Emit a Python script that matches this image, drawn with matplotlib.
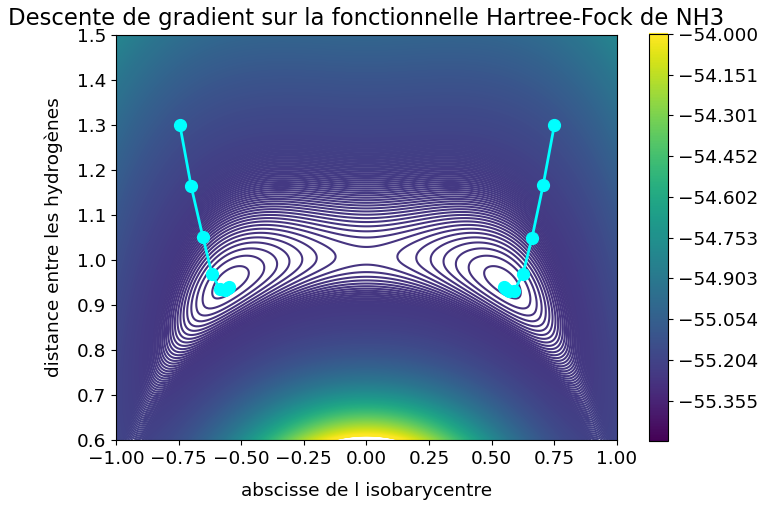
import numpy as np
import matplotlib
matplotlib.use("Agg")
import matplotlib.pyplot as plt

# contour levels (Hartree), as on the colour bar
E_MIN = -55.5036
E_MAX = -54.0
N_LEVELS = 1000

# domain
X_RANGE = [-1.0, 1.0]
Y_RANGE = [0.6, 1.5]

# model of the energy surface
E_WELL = -55.29     # energy at the two minima
X_WELL = 0.555      # abscissa of the two minima
Y_WELL = 0.938      # H-H distance at the minima
Y_SADDLE = 1.0      # H-H distance at the inversion saddle
BARRIER = 0.011     # saddle height above the minima
K_OUT = 0.002       # extra stiffness outside the wells
B_UP = 1.0          # stiffness above the valley
Q_UP = 0.2
B_LOW = 1.5         # stiffness below the valley
SOFTEN = 0.55       # y stiffness drops towards the sides
WALL = 1.15         # repulsive wall at short H-H distance
WALL_L = 0.12
WALL_M = 0.2
WALL_W = 0.45

# gradient descent paths
left_x = [-0.745, -0.700, -0.653, -0.617, -0.585, -0.565, -0.553, -0.548]
left_y = [1.300, 1.164, 1.051, 0.969, 0.935, 0.933, 0.937, 0.939]
right_x = [0.750, 0.705, 0.661, 0.624, 0.590, 0.568, 0.556, 0.550]
right_y = [1.300, 1.166, 1.050, 0.968, 0.932, 0.931, 0.936, 0.939]


def energy(x, y):
    s2 = (x / X_WELL) ** 2
    vx = BARRIER * (s2 - 1) ** 2 + K_OUT * (s2 - 1) ** 2 * s2
    # valley bends down towards the sides -> tilted wells
    y0 = Y_SADDLE - (Y_SADDLE - Y_WELL) * np.abs(x / X_WELL) ** 3
    dy = y - y0
    vy = np.where(dy > 0, B_UP * dy ** 2 + Q_UP * dy ** 4, B_LOW * dy ** 2)
    vy = vy * (1 - SOFTEN * x ** 2)
    t = y - Y_RANGE[0]
    wall = WALL * np.exp(-(x / WALL_W) ** 2) * np.exp(-t / WALL_L - (t / WALL_M) ** 2)
    return E_WELL + vx + vy + wall


x = np.linspace(X_RANGE[0], X_RANGE[1], 400)
y = np.linspace(Y_RANGE[0], Y_RANGE[1], 400)
X, Y = np.meshgrid(x, y)
Z = energy(X, Y)
levels = np.linspace(E_MIN, E_MAX, N_LEVELS)

fig = plt.figure(figsize=(7.64, 5.05), dpi=100)
ax = fig.add_axes([0.1518, 0.1287, 0.6558, 0.802])
cax = fig.add_axes([0.8495, 0.127, 0.0249, 0.806])

cs = ax.contour(X, Y, Z, levels, cmap="viridis", linewidths=1.5)
fig.colorbar(cs, cax=cax)

ax.plot(left_x, left_y, "o-", color="cyan", ms=8.5, lw=2)
ax.plot(right_x, right_y, "o-", color="cyan", ms=8.5, lw=2)

ax.set_title("Descente de gradient sur la fonctionnelle Hartree-Fock de NH3",
             fontsize=16.4, pad=7)
ax.set_xlabel("abscisse de l isobarycentre", fontsize=13.3, labelpad=10)
ax.set_ylabel("distance entre les hydrogènes", fontsize=13.3, labelpad=10)
ax.tick_params(labelsize=13.3)
cax.tick_params(labelsize=13.3)

fig.savefig("out.png", dpi=100)
